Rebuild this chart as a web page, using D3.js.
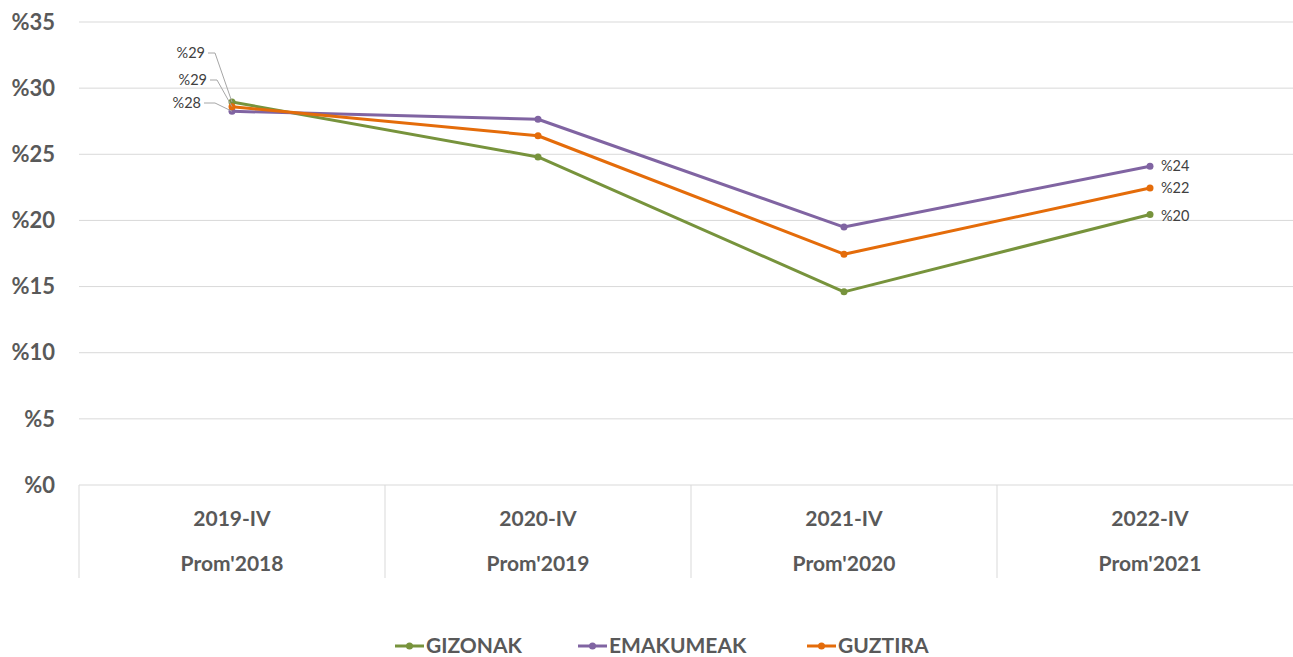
<!DOCTYPE html>
<html><head><meta charset="utf-8">
<script src="https://cdn.jsdelivr.net/npm/d3@7/dist/d3.min.js"></script>
<style>body{margin:0;background:#fff;overflow:hidden}</style>
</head><body>
<svg id="c" width="1293" height="657"></svg>
<script>
const categoriesTop = ["2019-IV","2020-IV","2021-IV","2022-IV"];
const categoriesBottom = ["Prom'2018","Prom'2019","Prom'2020","Prom'2021"];
const seriesNames = ["GIZONAK","EMAKUMEAK","GUZTIRA"];
const seriesColors = ["#77933C","#8064A2","#E46C0A"];
const gizonak = [28.95, 24.8, 14.6, 20.45];
const emakumeak = [28.25, 27.65, 19.5, 24.1];
const guztira = [28.6, 26.4, 17.45, 22.45];
const yTicks = [0,5,10,15,20,25,30,35];

(function(){
const seriesValues = [gizonak, emakumeak, guztira];
const svg = d3.select("#c");
const font = "Lato, 'Open Sans', sans-serif";
const pL = 79, pR = 1303, pT = 22, pB = 485;
const x = d3.scaleBand().domain(categoriesTop).range([pL, pR]);
const y = d3.scaleLinear().domain([0,35]).range([pB, pT]);
const cx = d => x(d) + x.bandwidth()/2;

svg.append("g").selectAll("line").data(yTicks.slice(1)).join("line")
  .attr("x1", pL).attr("x2", 1293).attr("y1", d=>y(d)).attr("y2", d=>y(d))
  .attr("stroke", "#d9d9d9").attr("stroke-width", 1);
svg.append("g").selectAll("text").data(yTicks).join("text")
  .attr("x", 55).attr("y", d=>y(d)).attr("dy","0.35em").attr("text-anchor","end")
  .attr("font-family", font).attr("font-weight","bold").attr("font-size", 22)
  .attr("fill","#595959").text(d=>"%"+d);
svg.append("line").attr("x1",pL).attr("x2",1293).attr("y1",pB).attr("y2",pB)
  .attr("stroke","#d9d9d9");
const dividers = categoriesTop.map(c=>x(c));
svg.append("g").selectAll("line").data(dividers).join("line")
  .attr("x1",d=>d).attr("x2",d=>d).attr("y1",pB).attr("y2",578)
  .attr("stroke","#d9d9d9");
svg.append("g").selectAll("text").data(categoriesTop).join("text")
  .attr("x",d=>cx(d)).attr("y",526).attr("text-anchor","middle")
  .attr("font-family",font).attr("font-weight","bold").attr("font-size",21)
  .attr("fill","#595959").text(d=>d);
svg.append("g").selectAll("text").data(categoriesBottom).join("text")
  .attr("x",(d,i)=>cx(categoriesTop[i])).attr("y",571).attr("text-anchor","middle")
  .attr("font-family",font).attr("font-weight","bold").attr("font-size",21)
  .attr("fill","#595959").text(d=>d);

const line = d3.line().x((d,i)=>cx(categoriesTop[i])).y(d=>y(d));
seriesValues.forEach((vals, s) => {
  svg.append("path").datum(vals).attr("d", line).attr("fill","none")
    .attr("stroke", seriesColors[s]).attr("stroke-width", 3).attr("stroke-linejoin","round");
  svg.append("g").selectAll("circle").data(vals).join("circle")
    .attr("cx",(d,i)=>cx(categoriesTop[i])).attr("cy",d=>y(d)).attr("r",3.5)
    .attr("fill", seriesColors[s]);
});

// label layout per series: green, purple, orange
const firstLabelY = [53, 103, 80];
const firstLabelX = [205, 201, 207];
const leaderEnd = [215, 215, 217];
seriesValues.forEach((vals, s) => {
  const px = cx(categoriesTop[0]), py = y(vals[0]);
  svg.append("polyline")
    .attr("points", `${firstLabelX[s]+3},${firstLabelY[s]} ${leaderEnd[s]},${firstLabelY[s]} ${px},${py}`)
    .attr("fill","none").attr("stroke","#a6a6a6").attr("stroke-width",1);
  svg.append("text").attr("x", firstLabelX[s]).attr("y", firstLabelY[s]).attr("dy","0.35em")
    .attr("text-anchor","end").attr("font-family",font).attr("font-size",14.5)
    .attr("fill","#404040").text("%"+Math.round(vals[0]));
  const lx = cx(categoriesTop[3]);
  svg.append("text").attr("x", lx + 11).attr("y", y(vals[3]) + (s===0?1:0)).attr("dy","0.35em")
    .attr("font-family",font).attr("font-size",14.5)
    .attr("fill","#404040").text("%"+Math.round(vals[3]));
});

const legendX = [395, 578, 807];
seriesNames.forEach((n, s) => {
  const g = svg.append("g").attr("transform", `translate(${legendX[s]},646)`);
  g.append("line").attr("x1",0).attr("x2",29).attr("stroke",seriesColors[s]).attr("stroke-width",3);
  g.append("circle").attr("cx",14.5).attr("r",3.5).attr("fill",seriesColors[s]);
  g.append("text").attr("x",31).attr("dy","0.35em").attr("font-family",font)
    .attr("font-weight","bold").attr("font-size",21).attr("fill","#595959").text(n);
});
})();
</script>
</body></html>
